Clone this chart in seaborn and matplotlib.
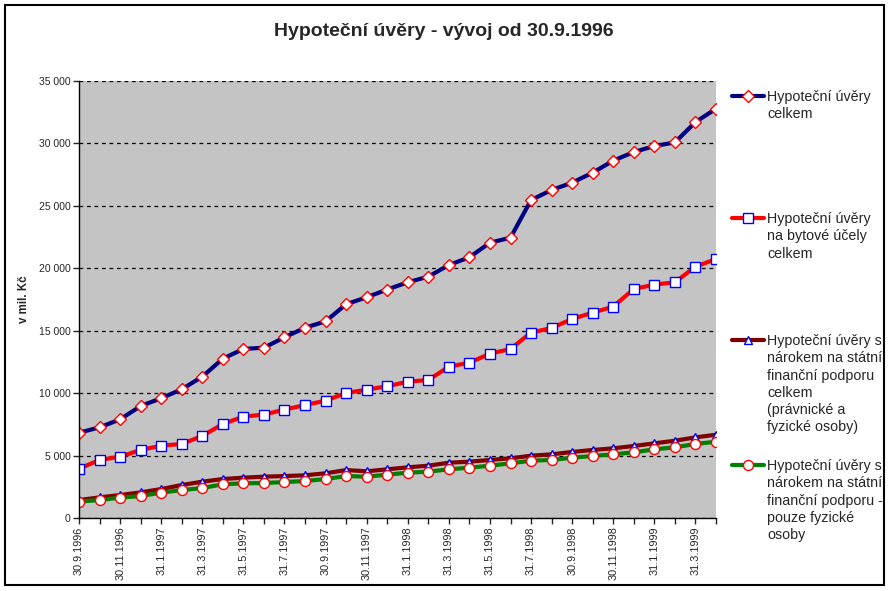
import matplotlib
matplotlib.use('Agg')
import matplotlib.pyplot as plt
import matplotlib.ticker as ticker
from matplotlib.lines import Line2D
from matplotlib.patches import Rectangle
import seaborn as sns
import pandas as pd

# Data (values in mil. Kč)
datumy = ['30.9.1996', '31.10.1996', '30.11.1996', '31.12.1996', '31.1.1997', '28.2.1997',
          '31.3.1997', '30.4.1997', '31.5.1997', '30.6.1997', '31.7.1997', '31.8.1997',
          '30.9.1997', '31.10.1997', '30.11.1997', '31.12.1997', '31.1.1998', '28.2.1998',
          '31.3.1998', '30.4.1998', '31.5.1998', '30.6.1998', '31.7.1998', '31.8.1998',
          '30.9.1998', '31.10.1998', '30.11.1998', '31.12.1998', '31.1.1999', '28.2.1999',
          '31.3.1999', '30.4.1999']

celkem = [6830, 7260, 7900, 8970, 9590, 10310, 11320, 12760, 13540, 13640, 14470, 15240,
          15750, 17120, 17680, 18300, 18880, 19330, 20260, 20880, 22050, 22450, 25470, 26270,
          26860, 27660, 28620, 29310, 29790, 30080, 31710, 32780]

bytove = [3950, 4650, 4910, 5450, 5790, 5930, 6570, 7530, 8120, 8280, 8680, 9050,
          9400, 10010, 10280, 10550, 10920, 11050, 12120, 12440, 13160, 13540, 14850, 15220,
          15940, 16450, 16930, 18340, 18690, 18880, 20130, 20740]

podpora_vse = [1440, 1650, 1840, 2050, 2320, 2640, 2910, 3120, 3230, 3310, 3360, 3420,
               3580, 3840, 3740, 3900, 4060, 4190, 4430, 4510, 4650, 4780, 4990, 5100,
               5290, 5450, 5580, 5770, 5980, 6190, 6460, 6670]

podpora_fyz = [1310, 1440, 1630, 1760, 2030, 2240, 2400, 2700, 2780, 2800, 2880, 2960,
               3120, 3360, 3310, 3470, 3630, 3710, 3900, 4030, 4190, 4380, 4590, 4650,
               4830, 4970, 5100, 5260, 5500, 5660, 5930, 6110]

nazvy = ['Hypoteční úvěry\ncelkem',
         'Hypoteční úvěry\nna bytové účely\ncelkem',
         'Hypoteční úvěry s\nnárokem na státní\nfinanční podporu\ncelkem\n(právnické a\nfyzické osoby)',
         'Hypoteční úvěry s\nnárokem na státní\nfinanční podporu -\npouze fyzické\nosoby']

df = pd.DataFrame({'datum': datumy, 'celkem': celkem, 'bytove': bytove,
                   'podpora_vse': podpora_vse, 'podpora_fyz': podpora_fyz})

sns.set_style('white')
plt.rcParams['font.family'] = ['Liberation Sans', 'DejaVu Sans']

fig = plt.figure(figsize=(8.9, 5.91), dpi=100)
ax = fig.add_axes([79 / 890, 1 - 518 / 591, 637 / 890, 437 / 591])
ax.set_facecolor('#c4c4c4')

# style per series: line colour, marker, marker edge colour, marker size
styly = [
    ('celkem', '#000080', 'D', '#ff0000', 6.3),
    ('bytove', '#ff0000', 's', '#0000ff', 6.8),
    ('podpora_vse', '#800000', '^', '#0000ff', 6.0),
    ('podpora_fyz', '#008000', 'o', '#ff0000', 7.2),
]

for col, barva, znak, okraj, vel in styly:
    sns.lineplot(data=df, x='datum', y=col, ax=ax, color=barva, linewidth=3.0,
                 marker=znak, markersize=vel, markerfacecolor='white',
                 markeredgecolor=okraj, markeredgewidth=1.0, sort=False, zorder=3)

ax.set_xlim(0, len(datumy) - 1)
ax.set_ylim(0, 35000)
ax.yaxis.set_major_locator(ticker.MultipleLocator(5000))
ax.yaxis.set_major_formatter(ticker.FuncFormatter(lambda v, p: f'{int(v):,}'.replace(',', ' ')))
ax.set_xticks(range(len(datumy)))
ax.set_xticklabels([d if i % 2 == 0 else '' for i, d in enumerate(datumy)],
                   rotation=90, fontsize=7.8)
ax.tick_params(axis='y', labelsize=7.5, length=4, width=1, direction='out', left=True, pad=2)
ax.tick_params(axis='x', length=4, width=1, direction='out', bottom=True, pad=2)

ax.yaxis.grid(True, color='black', linestyle=(0, (3, 3)), linewidth=0.9, zorder=1)
ax.xaxis.grid(False)
ax.set_axisbelow(True)
for s in ['top', 'right']:
    ax.spines[s].set_visible(False)
for s in ['left', 'bottom']:
    ax.spines[s].set_color('black')
    ax.spines[s].set_linewidth(1.0)
    ax.spines[s].set_zorder(4)

ax.set_xlabel('')
ax.set_ylabel('v mil. Kč', fontsize=8.3, fontweight='bold')
ax.yaxis.set_label_coords((30 - 79) / 637, 0.5)

fig.text(444 / 890, 1 - 32 / 591, 'Hypoteční úvěry - vývoj od 30.9.1996',
         ha='center', va='center', fontsize=14, fontweight='bold')

# legend drawn by hand (Excel style with uneven spacing)
leg_y = [96, 218, 340, 465]
for (col, barva, znak, okraj, vel), nazev, y in zip(styly, nazvy, leg_y):
    yf = 1 - y / 591
    fig.add_artist(Line2D([732 / 890, 764 / 890], [yf, yf], transform=fig.transFigure,
                          color=barva, linewidth=3.0))
    fig.add_artist(Line2D([748 / 890], [yf], transform=fig.transFigure, marker=znak,
                          markersize=vel, markerfacecolor='white', markeredgecolor=okraj,
                          markeredgewidth=1.0, linestyle='none'))
    fig.text(767 / 890, 1 - (y - 6) / 591, nazev, ha='left', va='top',
             fontsize=10.3, linespacing=1.3)

# outer chart frame
fig.add_artist(Rectangle((5 / 890, 1 - 585 / 591), 879 / 890, 580 / 591,
                         transform=fig.transFigure, fill=False, edgecolor='black',
                         linewidth=1.5))

fig.savefig('out.png', dpi=100)
